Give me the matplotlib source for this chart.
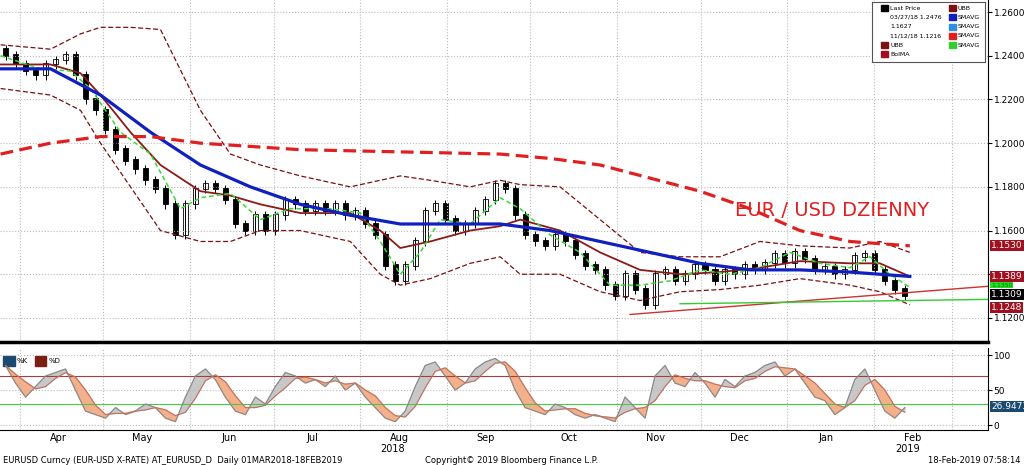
import matplotlib.pyplot as plt
import matplotlib.dates as mdates
import numpy as np
import pandas as pd

# closes, one every ~3.6 days from 27 Mar 2018
closes = [1.240, 1.236, 1.233, 1.231, 1.236, 1.238, 1.240, 1.231, 1.220, 1.215,
          1.206, 1.197, 1.192, 1.188, 1.183, 1.179, 1.172, 1.158, 1.172, 1.179,
          1.181, 1.179, 1.174, 1.163, 1.160, 1.167, 1.160, 1.167, 1.174, 1.172,
          1.169, 1.172, 1.169, 1.172, 1.167, 1.169, 1.163, 1.158, 1.144, 1.137,
          1.144, 1.155, 1.169, 1.172, 1.165, 1.160, 1.163, 1.169, 1.174, 1.181,
          1.179, 1.167, 1.158, 1.155, 1.153, 1.158, 1.155, 1.149, 1.144, 1.142,
          1.135, 1.130, 1.140, 1.133, 1.126, 1.140, 1.142, 1.137, 1.140, 1.144,
          1.142, 1.137, 1.142, 1.140, 1.144, 1.142, 1.145, 1.149, 1.145, 1.150,
          1.147, 1.142, 1.143, 1.140, 1.142, 1.148, 1.149, 1.142, 1.137, 1.133,
          1.130]
stoch_k = [85, 60, 40, 55, 70, 75, 80, 50, 20, 15, 10, 25, 15, 20, 30, 25, 10, 5, 40, 70,
           80, 65, 40, 20, 15, 40, 30, 55, 75, 70, 60, 65, 55, 70, 50, 60, 40, 25, 10, 5,
           20, 55, 85, 90, 70, 50, 60, 80, 90, 95, 85, 50, 25, 20, 15, 30, 25, 15, 10, 15,
           10, 5, 40, 25, 10, 70, 85, 60, 55, 75, 60, 40, 65, 55, 70, 75, 85, 90, 70, 80,
           60, 40, 35, 15, 25, 65, 80, 50, 20, 10, 25]

# moving averages: knots in bar-index units
sma50_i = [-0.5, 4.5, 9.5, 14.5, 19.5, 24.5, 29.5, 34.5, 39.5, 44.5, 49.5, 54.5, 59.5, 64.5, 69.5, 74.5, 79.5, 84.5, 90.5]
sma50 = [1.234, 1.234, 1.222, 1.205, 1.190, 1.180, 1.172, 1.167, 1.163, 1.163, 1.163, 1.160, 1.155, 1.150, 1.145, 1.142, 1.142, 1.141, 1.139]
bolma_i = [-0.5, 4.5, 7.5, 9.5, 12.5, 15.5, 19.5, 22.5, 25.5, 29.5, 34.5, 37.5, 39.5, 42.5, 46.5, 49.5, 51.5, 55.5, 59.5, 63.5, 67.5, 71.5, 75.5, 79.5, 84.5, 87.5, 90.5]
bolma = [1.236, 1.236, 1.232, 1.222, 1.205, 1.190, 1.178, 1.176, 1.172, 1.168, 1.168, 1.160, 1.152, 1.155, 1.160, 1.162, 1.165, 1.160, 1.150, 1.142, 1.140, 1.141, 1.143, 1.146, 1.145, 1.145, 1.139]
ubb = [1.245, 1.243, 1.250, 1.253, 1.253, 1.252, 1.215, 1.195, 1.190, 1.185, 1.180, 1.183, 1.185, 1.183, 1.180, 1.183, 1.181, 1.180, 1.165, 1.150, 1.148, 1.148, 1.155, 1.153, 1.152, 1.155, 1.150]
lbb = [1.225, 1.222, 1.215, 1.200, 1.180, 1.160, 1.155, 1.155, 1.160, 1.160, 1.155, 1.140, 1.135, 1.138, 1.145, 1.148, 1.140, 1.140, 1.132, 1.128, 1.132, 1.133, 1.135, 1.138, 1.135, 1.132, 1.126]
sma10_i = [-0.5, 3.5, 6.5, 8.5, 11.5, 14.5, 17.5, 19.5, 22.5, 25.5, 28.5, 32.5, 35.5, 37.5, 39.5, 41.5, 43.5, 46.5, 49.5, 51.5, 54.5, 57.5, 60.5, 63.5, 66.5, 69.5, 72.5, 75.5, 78.5, 81.5, 84.5, 86.5, 88.5, 90.5]
sma10 = [1.240, 1.234, 1.233, 1.225, 1.205, 1.195, 1.170, 1.175, 1.177, 1.165, 1.170, 1.170, 1.168, 1.155, 1.140, 1.150, 1.165, 1.163, 1.175, 1.170, 1.158, 1.150, 1.135, 1.135, 1.137, 1.142, 1.140, 1.143, 1.150, 1.145, 1.143, 1.148, 1.140, 1.134]
sma200_i = [-0.5, 4.5, 9.5, 14.5, 19.5, 29.5, 39.5, 49.5, 54.5, 59.5, 64.5, 69.5, 74.5, 79.5, 84.5, 90.5]
sma200 = [1.195, 1.200, 1.203, 1.203, 1.200, 1.197, 1.196, 1.195, 1.193, 1.190, 1.184, 1.178, 1.170, 1.160, 1.155, 1.153]

start = pd.Timestamp('2018-03-27')
step = 3.58
def to_date(idx):
    return mdates.date2num(start) + np.asarray(idx) * step

n = len(closes)
xd = to_date(np.arange(n))
opens = [closes[0] + 0.003] + closes[:-1]

fig = plt.figure(figsize=(10.24, 4.65), dpi=100)
ax = fig.add_axes([0, 1 - 342 / 465, 988 / 1024, 342 / 465])
ax2 = fig.add_axes([0, 1 - 430 / 465, 988 / 1024, 82 / 465])
x0 = mdates.date2num(pd.Timestamp('2018-03-25'))
x1 = mdates.date2num(pd.Timestamp('2019-03-14'))

for a in (ax, ax2):
    a.set_xlim(x0, x1)
    a.yaxis.tick_right()
    a.tick_params(axis='y', labelsize=6.5, direction='out', length=3, pad=1)
    a.set_facecolor('white')
    for s in ['left', 'top']:
        a.spines[s].set_visible(False)
    a.xaxis.set_major_locator(mdates.MonthLocator(bymonthday=15))
    a.xaxis.set_minor_locator(mdates.MonthLocator())
    a.grid(True, which='minor', axis='x', color='#bbbbbb', linestyle=':', linewidth=0.8)
    a.grid(True, which='major', axis='y', color='#bbbbbb', linestyle=':', linewidth=0.8)
    a.tick_params(axis='x', which='both', length=0)

ax.set_xticklabels([])
ax.spines['bottom'].set_linewidth(2.5)
ax.set_ylim(1.109, 1.2655)
ax.set_yticks(np.arange(1.12, 1.261, 0.02))
ax.set_yticklabels(['%.4f' % v for v in np.arange(1.12, 1.261, 0.02)])

# candles
for x, o, c in zip(xd, opens, closes):
    hi, lo = max(o, c) + 0.002, min(o, c) - 0.002
    ax.vlines(x, lo, hi, color='black', linewidth=0.7)
    ax.bar(x, abs(c - o) + 0.0006, bottom=min(o, c), width=1.8,
           color='white' if c >= o else 'black', edgecolor='black', linewidth=0.6)

ax.plot(to_date(bolma_i), ubb, color='#7a1010', linestyle='--', linewidth=0.9, dashes=(4, 2))
ax.plot(to_date(bolma_i), lbb, color='#7a1010', linestyle='--', linewidth=0.9, dashes=(4, 2))
ax.plot(to_date(bolma_i), bolma, color='#8b1a1a', linewidth=1.3)
ax.plot(to_date(sma10_i), sma10, color='#33dd33', linestyle='--', linewidth=1.1, dashes=(3, 2))
ax.plot(to_date(sma50_i), sma50, color='#1020c0', linewidth=2.3)
ax.plot(to_date(sma200_i), sma200, color='#e02020', linestyle='--', linewidth=2.3, dashes=(4, 2))

# trend lines
ax.plot([to_date(62.5), x1], [1.1216, 1.1345], color='#d03030', linewidth=1)
ax.plot([to_date(67.5), x1], [1.1265, 1.1285], color='#33cc33', linewidth=1)

ax.text(to_date(73), 1.1665, 'EUR / USD DZIENNY', color='#e02020', fontsize=14)

# right-hand value tags
tags = [(1.1530, '#a01020', 'white', 6.5), (1.1389, '#a01020', 'white', 6.5),
        (1.1350, '#22dd22', '#117711', 4.5), (1.1309, 'black', 'white', 6.5),
        (1.1248, '#a01020', 'white', 6.5)]
for v, fc, tc, fs in tags:
    ax.text(1.003, v, '%.4f' % v, transform=ax.get_yaxis_transform(), fontsize=fs, color=tc,
            va='center', ha='left', bbox=dict(boxstyle='square,pad=0.12', fc=fc, ec='none'))

# legend box
lg = fig.add_axes([872 / 1024, 1 - 62 / 465, 113 / 1024, 60 / 465])
lg.set_xticks([]); lg.set_yticks([])
lg.set_facecolor('white')
for s in lg.spines.values():
    s.set_edgecolor('#555555')
left_items = [('Last Price', 'black'), ('03/27/18 1.2476', None), ('1.1627', None),
              ('11/12/18 1.1216', None), ('UBB', '#7a1010'), ('BolMA', '#a01020')]
right_items = [('UBB', '#7a1010'), ('SMAVG', '#1020c0'), ('SMAVG', '#3090e0'),
               ('SMAVG', '#e02020'), ('SMAVG', '#33cc33')]
for i, (t, c) in enumerate(left_items):
    y = 0.9 - i * 0.155
    if c:
        lg.add_patch(plt.Rectangle((0.08, y - 0.05), 0.06, 0.1, color=c))
    lg.text(0.16, y, t, fontsize=4.5, va='center')
for i, (t, c) in enumerate(right_items):
    y = 0.9 - i * 0.155
    lg.add_patch(plt.Rectangle((0.68, y - 0.05), 0.06, 0.1, color=c))
    lg.text(0.76, y, t, fontsize=4.5, va='center')

# stochastics
k = np.array(stoch_k, dtype=float)
d = pd.Series(k).rolling(3, min_periods=1).mean().values
ax2.set_ylim(-7, 110)
ax2.set_yticks([0, 50, 100])
ax2.axhline(70, color='#a04040', linewidth=0.8)
ax2.axhline(30, color='#44cc44', linewidth=0.8)
ax2.fill_between(xd, k, d, where=k >= d, color='#c8c8c8', interpolate=True)
ax2.fill_between(xd, k, d, where=k < d, color='#f4b08a', interpolate=True)
ax2.plot(xd, k, color='#888888', linewidth=0.8)
ax2.plot(xd, d, color='#c07060', linewidth=0.8)
ax2.text(1.003, 26.95, '26.9473', transform=ax2.get_yaxis_transform(), fontsize=6.5, color='white',
         va='center', bbox=dict(boxstyle='square,pad=0.12', fc='#1a4a70', ec='none'))
ax2.xaxis.set_major_formatter(mdates.DateFormatter('%b'))
ax2.tick_params(axis='x', labelsize=7, pad=2)
ax2.add_patch(plt.Rectangle((0.003, 0.78), 0.012, 0.12, transform=ax2.transAxes, color='#1a4a70'))
ax2.text(0.017, 0.84, '%K', transform=ax2.transAxes, fontsize=5, va='center')
ax2.add_patch(plt.Rectangle((0.035, 0.78), 0.012, 0.12, transform=ax2.transAxes, color='#7a2010'))
ax2.text(0.049, 0.84, '%D', transform=ax2.transAxes, fontsize=5, va='center')

fig.text(393 / 1024, 1 - 449 / 465, '2018', fontsize=7, ha='center', va='center')
fig.text(908 / 1024, 1 - 449 / 465, '2019', fontsize=7, ha='center', va='center')
fig.text(0.003, 1 - 460 / 465, 'EURUSD Curncy (EUR-USD X-RATE) AT_EURUSD_D  Daily 01MAR2018-18FEB2019',
         fontsize=6, va='center')
fig.text(0.5, 1 - 460 / 465, 'Copyright\u00a9 2019 Bloomberg Finance L.P.', fontsize=6, ha='center', va='center')
fig.text(0.997, 1 - 460 / 465, '18-Feb-2019 07:58:14', fontsize=6, ha='right', va='center')

fig.savefig('out.png', dpi=100)
